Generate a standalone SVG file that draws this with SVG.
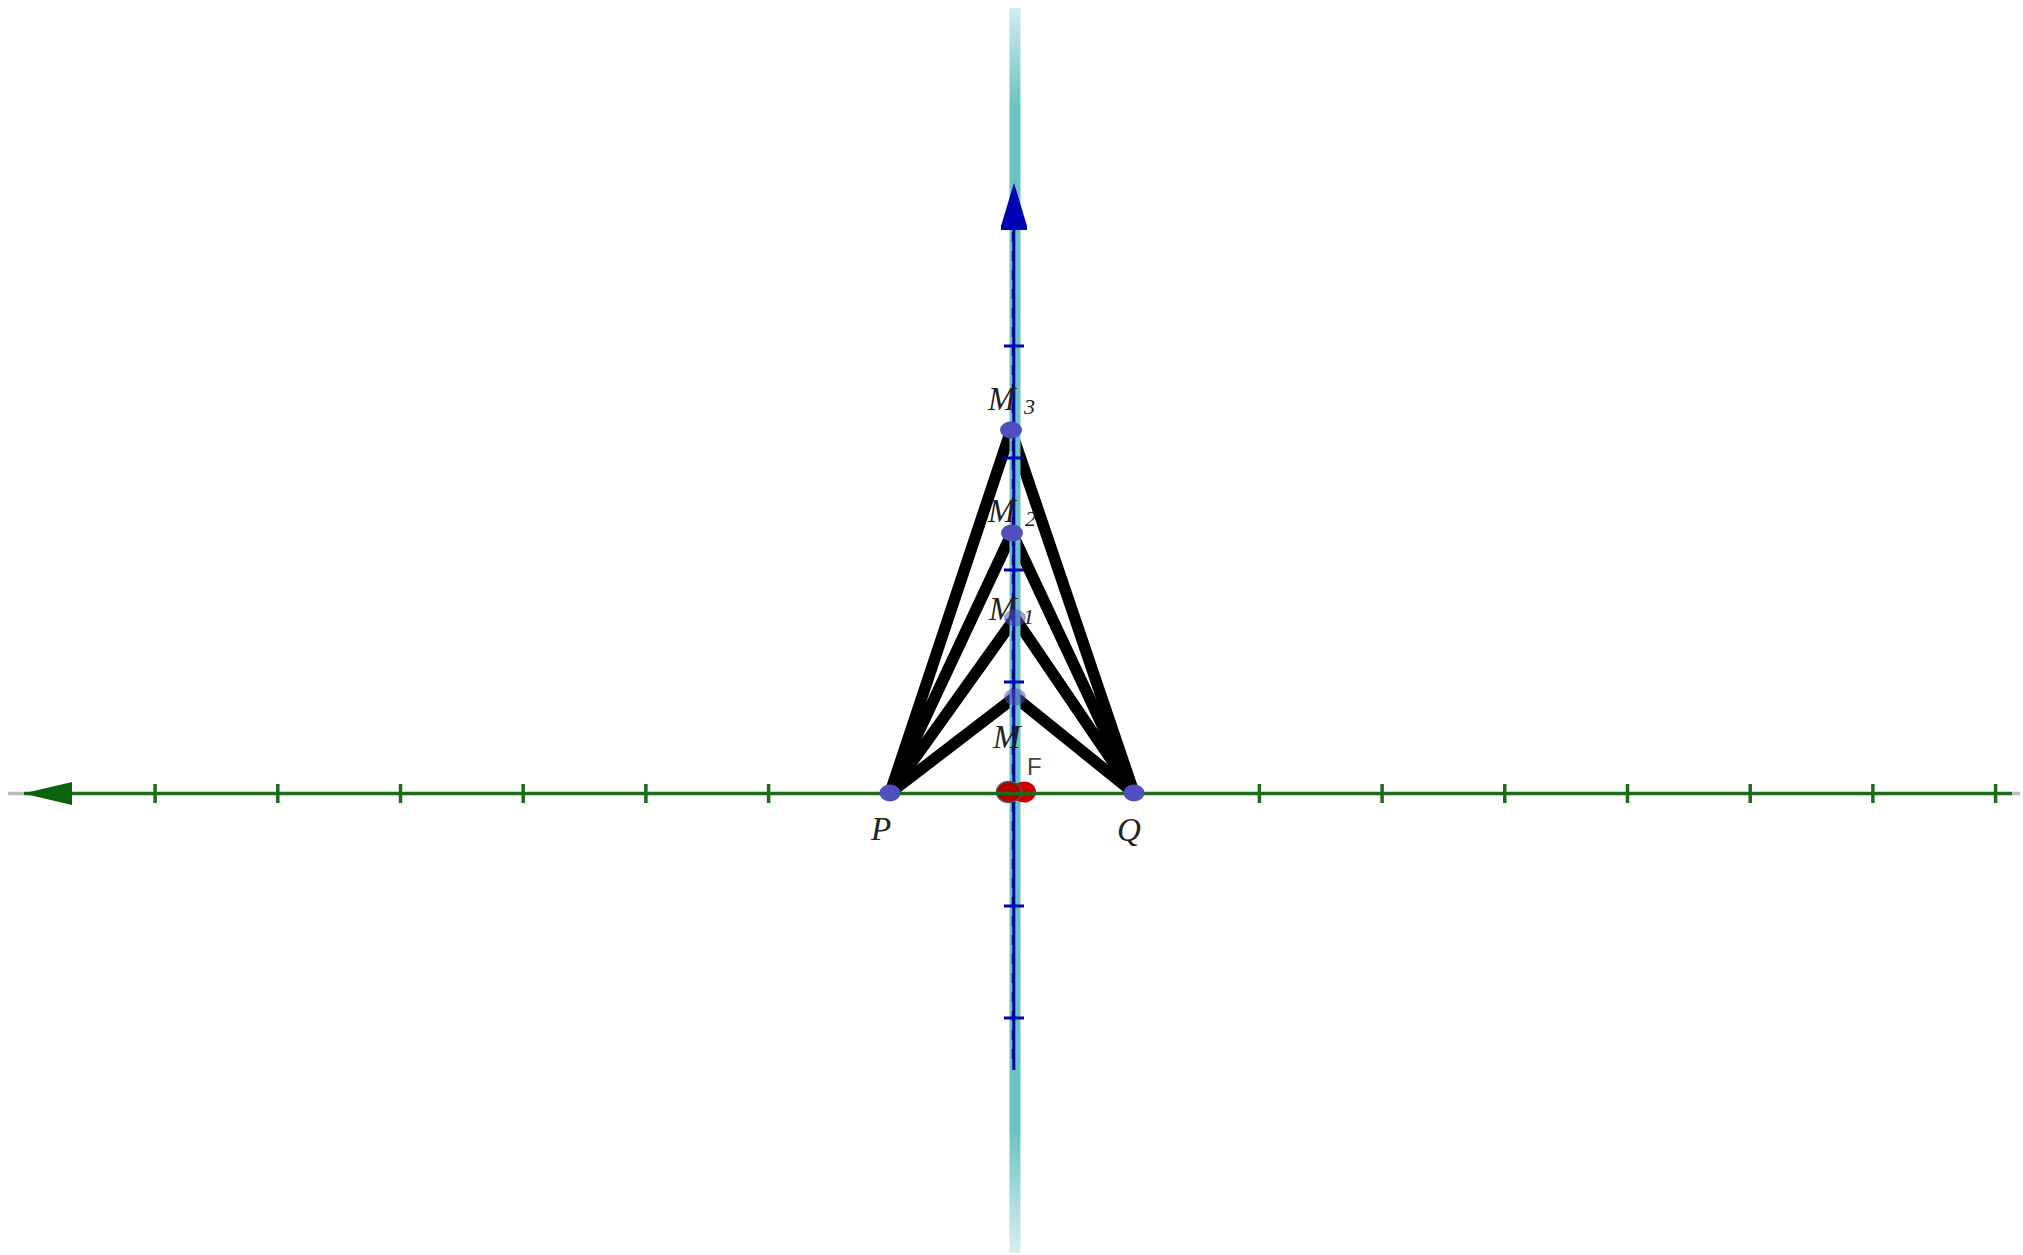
<svg xmlns="http://www.w3.org/2000/svg" width="2023" height="1255" viewBox="0 0 2023 1255">
<defs>
<linearGradient id="cyanGrad" x1="0" y1="0" x2="0" y2="1">
<stop offset="0" stop-color="#d2ecec"/>
<stop offset="0.08" stop-color="#6cc2c2"/>
<stop offset="0.9" stop-color="#6cc2c2"/>
<stop offset="1" stop-color="#d8efef"/>
</linearGradient>
<style>
.seg{fill:none;stroke:#000;stroke-width:11.5;stroke-linecap:round;stroke-linejoin:round}
.htick{stroke:#1b6b1b;stroke-width:3.5}
.vtick{stroke:#0000b4;stroke-width:3}
.pt{fill:#4f4fc0}
.lbl{font-family:"Liberation Serif",serif;font-style:italic;font-size:33px;fill:#222}
.sub{font-family:"Liberation Serif",serif;font-style:italic;font-size:22px;fill:#222}
.flbl{font-family:"Liberation Sans",sans-serif;font-size:24px;fill:#444}
</style>
</defs>
<rect width="2023" height="1255" fill="#fff"/>
<g id="connectors">
<polyline class="seg" points="890,793 1011,430 1134,793"/>
<polyline class="seg" points="890,793 1012,533 1134,793"/>
<polyline class="seg" points="890,793 1015,618 1134,793"/>
<polyline class="seg" points="890,793 1015,697 1134,793"/>
</g>
<g id="y-axis">
<rect x="1009.5" y="8" width="11" height="1245" fill="url(#cyanGrad)"/>
<line x1="1013.8" y1="228" x2="1013.8" y2="1070" stroke="#0000b4" stroke-width="3"/>
<line x1="1012.8" y1="232" x2="1012.8" y2="1068" stroke="#00008c" stroke-width="2" stroke-dasharray="10 9"/>
<polygon points="1014,183 1001,226 1027,226" fill="#0000b4"/>
<rect x="1001" y="225" width="26" height="5" fill="#0000b4"/>
<line class="vtick" x1="1004" y1="346" x2="1024" y2="346"/>
<line class="vtick" x1="1004" y1="458" x2="1024" y2="458"/>
<line class="vtick" x1="1004" y1="570" x2="1024" y2="570"/>
<line class="vtick" x1="1004" y1="682" x2="1024" y2="682"/>
<line class="vtick" x1="1004" y1="906" x2="1024" y2="906"/>
<line class="vtick" x1="1004" y1="1018" x2="1024" y2="1018"/>
</g>
<g id="F">
<ellipse cx="1024" cy="792" rx="12" ry="10.5" fill="#d00000"/>
<ellipse cx="1009" cy="792" rx="12.5" ry="10.5" fill="#b00000" stroke="#555" stroke-width="1.5"/>
<text class="flbl" x="1027" y="775">F</text>
</g>
<g id="x-axis">
<line x1="8" y1="793.5" x2="24" y2="793.5" stroke="#bbbbbb" stroke-width="3.5"/>
<line x1="24" y1="793.5" x2="2012" y2="793.5" stroke="#1b6b1b" stroke-width="3.5"/>
<line x1="2012" y1="793.5" x2="2020" y2="793.5" stroke="#bbbbbb" stroke-width="3.5"/>
<polygon points="23,793.5 72,782 72,805" fill="#0b640b"/>
<line class="htick" x1="155.1" y1="784" x2="155.1" y2="803"/>
<line class="htick" x1="277.8" y1="784" x2="277.8" y2="803"/>
<line class="htick" x1="400.5" y1="784" x2="400.5" y2="803"/>
<line class="htick" x1="523.2" y1="784" x2="523.2" y2="803"/>
<line class="htick" x1="645.9" y1="784" x2="645.9" y2="803"/>
<line class="htick" x1="768.6" y1="784" x2="768.6" y2="803"/>
<line class="htick" x1="1259.4" y1="784" x2="1259.4" y2="803"/>
<line class="htick" x1="1382.1" y1="784" x2="1382.1" y2="803"/>
<line class="htick" x1="1504.8" y1="784" x2="1504.8" y2="803"/>
<line class="htick" x1="1627.5" y1="784" x2="1627.5" y2="803"/>
<line class="htick" x1="1750.2" y1="784" x2="1750.2" y2="803"/>
<line class="htick" x1="1872.9" y1="784" x2="1872.9" y2="803"/>
<line class="htick" x1="1995.6" y1="784" x2="1995.6" y2="803"/>
</g>
<g id="P">
<ellipse class="pt" cx="890" cy="793" rx="10.5" ry="8.5"/>
<text class="lbl" x="871" y="840">P</text>
</g>
<g id="Q">
<ellipse class="pt" cx="1134" cy="793" rx="10.5" ry="8.5"/>
<text class="lbl" x="1117" y="841">Q</text>
</g>
<g id="M3">
<ellipse class="pt" cx="1011" cy="430" rx="11" ry="8.5"/>
<text class="lbl" x="988" y="410">M</text><text class="sub" x="1024" y="414">3</text>
</g>
<g id="M2">
<ellipse class="pt" cx="1012" cy="533" rx="11" ry="8.5"/>
<text class="lbl" x="988" y="522">M</text><text class="sub" x="1025" y="526">2</text>
</g>
<g id="M1">
<text class="lbl" x="989" y="620">M</text><text class="sub" x="1023" y="624">1</text>
<ellipse class="pt" cx="1015" cy="618" rx="11" ry="8.5" opacity="0.55"/>
</g>
<g id="M">
<ellipse class="pt" cx="1015" cy="697" rx="11" ry="8.5" opacity="0.55"/>
<text class="lbl" x="993" y="748">M</text>
</g>
</svg>
